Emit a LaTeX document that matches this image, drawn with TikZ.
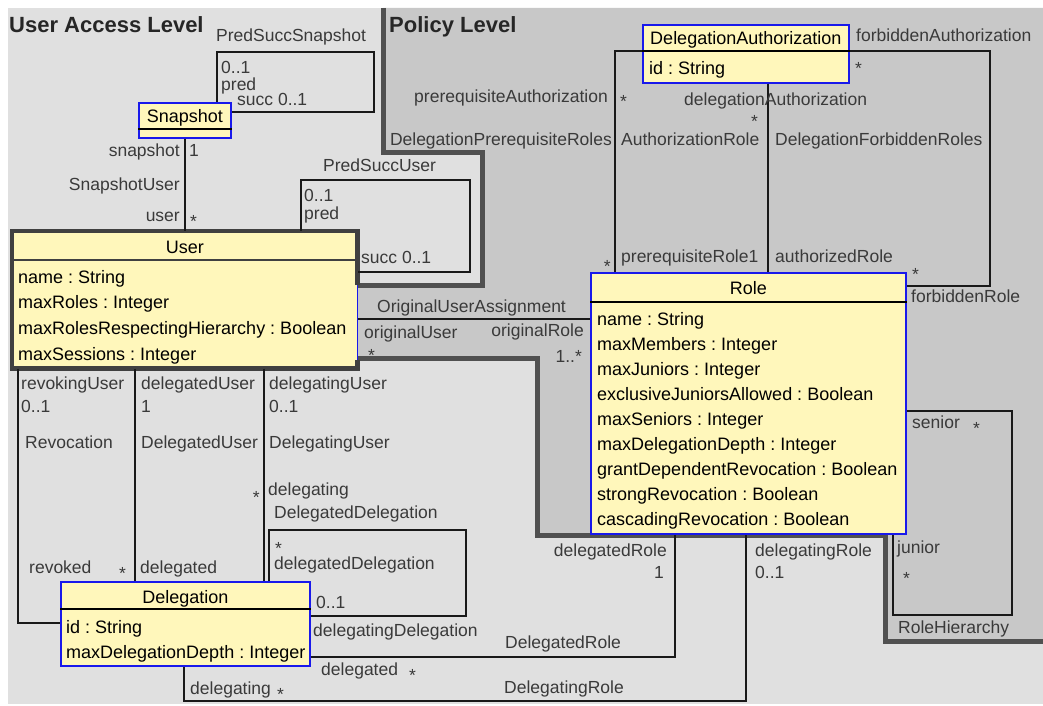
\documentclass[tikz,border=0pt]{standalone}
\usepackage{fontspec}
\setmainfont{Liberation Sans}
\usetikzlibrary{calc}
\usetikzlibrary{positioning}
\frenchspacing

\definecolor{lightlevel}{RGB}{224,224,224}
\definecolor{policylevel}{RGB}{200,200,200}
\definecolor{levelframe}{RGB}{80,80,80}
\definecolor{classfill}{RGB}{255,247,187}
\definecolor{classblue}{RGB}{25,25,235}
\definecolor{labelgray}{RGB}{58,58,58}

\tikzset{
  classbox/.style={draw=classblue, line width=1.6pt, fill=classfill, anchor=north west, inner sep=0pt},
  classline/.style={draw=black, line width=1.4pt},
  userframe/.style={draw=levelframe!80!black, line width=4.5pt},
  ctitle/.style={font=\fontsize{18}{20}\selectfont, text=black, inner sep=0pt, text height=13pt, text depth=4pt, yshift=-1.5pt},
  attr/.style={ctitle, anchor=west},
  lbl/.style={font=\fontsize{17.5}{19}\selectfont, text=labelgray, inner sep=0pt, anchor=west, text height=13pt, text depth=4pt, yshift=-1pt},
  rlbl/.style={lbl, anchor=east},
  mult/.style={lbl, yshift=-5.5pt},
  rmult/.style={rlbl, yshift=-5.5pt},
  assoc/.style={draw=black!90, line width=1.6pt},
  levelline/.style={draw=levelframe, line width=5pt},
  heading/.style={font=\fontsize{22}{24}\selectfont\bfseries, text=black!85, inner sep=0pt, anchor=west, text height=16pt, text depth=4pt}
}

\begin{document}
\begin{tikzpicture}[x=1pt,y=-1pt]
\useasboundingbox (0,0) rectangle (1043,706);
% the two levels
\fill[lightlevel] (8,8) rectangle (1043,704);
\fill[policylevel] (383,8) -- (383,152) -- (482,152) -- (482,285) -- (356,285) -- (356,358) -- (537,358) -- (537,535) -- (885,535) -- (885,641) -- (1043,641) -- (1043,8) -- cycle;
\draw[levelline] (383,8) -- (383,152) -- (482,152) -- (482,285) -- (356,285);
\draw[levelline] (356,358) -- (537,358) -- (537,535) -- (885,535) -- (885,641) -- (1043,641);
\node[heading] (hdaccess) at (9,27) {User Access Level};
\node[heading] (hdpolicy) at (389,27) {Policy Level};

% classes
\node[classbox, minimum width=92pt, minimum height=35pt] (snap) at (138,102) {};
\node[ctitle] (snapname) at ($(snap.north)+(0,15)$) {Snapshot};
\draw[classline] ($(snap.north west)+(0,27)$) -- ($(snap.north east)+(0,27)$);

\node[classbox, draw=none, minimum width=344pt, minimum height=136pt] (user) at (12,231) {};
\draw[userframe] ($(user.north east)+(0,54)$) -- (user.north east) -- (user.north west) -- (user.south west) -- (user.south east) -- ($(user.south east)+(0,-9)$);
\draw[draw=classblue, line width=1.6pt] ($(user.north east)+(0,54)$) -- ($(user.south east)+(0,-9)$);
\node[ctitle] (username) at ($(user.north)+(0,16)$) {User};
\draw[userframe, line width=2.5pt] ($(user.north west)+(0,29)$) -- ($(user.north east)+(0,29)$);
\node[attr] (ua1) at ($(user.north west)+(6,46)$) {name : String};
\node[attr] (ua2) at ($(user.north west)+(6,71)$) {maxRoles : Integer};
\node[attr] (ua3) at ($(user.north west)+(6,97)$) {maxRolesRespectingHierarchy : Boolean};
\node[attr] (ua4) at ($(user.north west)+(6,123)$) {maxSessions : Integer};

\node[classbox, minimum width=206pt, minimum height=58pt] (dauth) at (642,24) {};
\node[ctitle] (dauthname) at ($(dauth.north)+(0,15)$) {DelegationAuthorization};
\draw[classline] ($(dauth.north west)+(0,27)$) -- ($(dauth.north east)+(0,27)$);
\node[attr] (da1) at ($(dauth.north west)+(7,45)$) {id : String};

\node[classbox, minimum width=315pt, minimum height=261pt] (role) at (590,272) {};
\node[ctitle] (rolename) at ($(role.north)+(0,16)$) {Role};
\draw[classline] ($(role.north west)+(0,30)$) -- ($(role.north east)+(0,30)$);
\node[attr] (ra1) at ($(role.north west)+(7,47)$) {name : String};
\node[attr] (ra2) at ($(role.north west)+(7,72)$) {maxMembers : Integer};
\node[attr] (ra3) at ($(role.north west)+(7,97)$) {maxJuniors : Integer};
\node[attr] (ra4) at ($(role.north west)+(7,122)$) {exclusiveJuniorsAllowed : Boolean};
\node[attr] (ra5) at ($(role.north west)+(7,147)$) {maxSeniors : Integer};
\node[attr] (ra6) at ($(role.north west)+(7,172)$) {maxDelegationDepth : Integer};
\node[attr] (ra7) at ($(role.north west)+(7,197)$) {grantDependentRevocation : Boolean};
\node[attr] (ra8) at ($(role.north west)+(7,222)$) {strongRevocation : Boolean};
\node[attr] (ra9) at ($(role.north west)+(7,247)$) {cascadingRevocation : Boolean};

\node[classbox, minimum width=249pt, minimum height=84pt] (deleg) at (60,581) {};
\node[ctitle] (delegname) at ($(deleg.north)+(0,16)$) {Delegation};
\draw[classline] ($(deleg.north west)+(0,28)$) -- ($(deleg.north east)+(0,28)$);
\node[attr] (dl1) at ($(deleg.north west)+(6,46)$) {id : String};
\node[attr] (dl2) at ($(deleg.north west)+(6,71)$) {maxDelegationDepth : Integer};

% associations
\coordinate (pss) at (217,52);
\coordinate (pssend) at (374,112);
\draw[assoc] (snap.north -| pss) |- (pssend |- pss) |- (snap.east |- pssend);
\draw[assoc] (snap.south) -- (snap.south |- user.north);
\coordinate (psu) at (301,180);
\coordinate (psuend) at (470,272);
\draw[assoc] (user.north -| psu) |- (psuend |- psu) |- (user.east |- psuend);
\coordinate (oua) at (450,319);
\draw[assoc] (user.east |- oua) -- (role.west |- oua);
\coordinate (rev) at (18,623);
\draw[assoc] (user.south -| rev) |- (deleg.west |- rev);
\coordinate (dlu) at (135,0);
\draw[assoc] (user.south -| dlu) -- (deleg.north -| dlu);
\coordinate (dgu) at (264,0);
\draw[assoc] (user.south -| dgu) -- (deleg.north -| dgu);
\coordinate (ddl) at (269,530);
\coordinate (ddlend) at (466,616);
\draw[assoc] (deleg.north -| ddl) |- (ddlend |- ddl) |- (deleg.east |- ddlend);
\coordinate (dr) at (675,657);
\draw[assoc] (deleg.east |- dr) -| (role.south -| dr);
\coordinate (dgr) at (184,701);
\coordinate (dgrend) at (746,701);
\draw[assoc] (deleg.south -| dgr) |- (dgrend) -- (role.south -| dgrend);
\coordinate (rh) at (1012,411);
\coordinate (rhend) at (893,615);
\draw[assoc] (role.east |- rh) -| (rhend -| rh) -| (role.south -| rhend);
\coordinate (pre) at (615,51);
\draw[assoc] (dauth.west |- pre) -| (role.north -| pre);
\coordinate (ar) at (768,0);
\draw[assoc] (dauth.south -| ar) -- (role.north -| ar);
\coordinate (fb) at (990,51);
\coordinate (fbend) at (990,286);
\draw[assoc] (dauth.east |- fb) -| (fbend) -- (role.east |- fbend);

% role names and multiplicities
\node[lbl] (t1) at (216,36) {PredSuccSnapshot};
\node[lbl] (t2) at (221,68) {0..1};
\node[lbl] (t3) at (221,85) {pred};
\node[lbl] (t4) at (237,100) {succ 0..1};
\node[rlbl] (t5) at (180,151) {snapshot};
\node[lbl] (t6) at (189,151) {1};
\node[rlbl] (t7) at (180,185) {SnapshotUser};
\node[rlbl] (t8) at (180,216) {user};
\node[mult] (t9) at (190,216) {*};
\node[lbl] (t10) at (323,166) {PredSuccUser};
\node[lbl] (t11) at (304,196) {0..1};
\node[lbl] (t12) at (304,214) {pred};
\node[lbl] (t13) at (361,258) {succ 0..1};

\node[rlbl] (t14) at (608,97) {prerequisiteAuthorization};
\node[mult] (t15) at (620,97) {*};
\node[lbl] (t16) at (684,100) {delegationAuthorization};
\node[mult] (t17) at (751,117) {*};
\node[rlbl] (t18) at (612,140) {DelegationPrerequisiteRoles};
\node[lbl] (t19) at (621,140) {AuthorizationRole};
\node[lbl] (t20) at (775,140) {DelegationForbiddenRoles};
\node[lbl] (t21) at (856,36) {forbiddenAuthorization};
\node[mult] (t22) at (855,64) {*};
\node[rmult] (t23) at (611,261) {*};
\node[lbl] (t24) at (621,257) {prerequisiteRole1};
\node[lbl] (t25) at (775,257) {authorizedRole};
\node[mult] (t26) at (912,269) {*};
\node[lbl] (t27) at (911,297) {forbiddenRole};

\node[lbl] (t28) at (377,307) {OriginalUserAssignment};
\node[lbl] (t29) at (364,333) {originalUser};
\node[mult] (t30) at (368,350) {*};
\node[rlbl] (t31) at (584,331) {originalRole};
\node[rlbl] (t32) at (582,357) {1..*};

\node[lbl] (t33) at (21,384) {revokingUser};
\node[lbl] (t34) at (21,407) {0..1};
\node[lbl] (t35) at (25,443) {Revocation};
\node[lbl] (t36) at (141,384) {delegatedUser};
\node[lbl] (t37) at (141,407) {1};
\node[lbl] (t38) at (141,443) {DelegatedUser};
\node[lbl] (t39) at (269,384) {delegatingUser};
\node[lbl] (t40) at (269,407) {0..1};
\node[lbl] (t41) at (269,443) {DelegatingUser};
\node[rmult] (t42) at (260,492) {*};
\node[lbl] (t43) at (268,490) {delegating};
\node[lbl] (t44) at (274,513) {DelegatedDelegation};
\node[mult] (t45) at (275,543) {*};
\node[lbl] (t46) at (274,564) {delegatedDelegation};
\node[lbl] (t47) at (316,603) {0..1};
\node[lbl] (t48) at (313,631) {delegatingDelegation};
\node[lbl] (t49) at (29,568) {revoked};
\node[mult] (t50) at (119,568) {*};
\node[lbl] (t51) at (140,568) {delegated};

\node[rlbl] (t52) at (667,551) {delegatedRole};
\node[rlbl] (t53) at (664,573) {1};
\node[lbl] (t54) at (755,551) {delegatingRole};
\node[lbl] (t55) at (755,573) {0..1};
\node[lbl] (t56) at (505,643) {DelegatedRole};
\node[lbl] (t57) at (321,670) {delegated};
\node[mult] (t58) at (409,670) {*};
\node[lbl] (t59) at (190,689) {delegating};
\node[mult] (t60) at (277,689) {*};
\node[lbl] (t61) at (504,688) {DelegatingRole};

\node[lbl] (t62) at (912,423) {senior};
\node[mult] (t63) at (973,423) {*};
\node[lbl] (t64) at (897,548) {junior};
\node[mult] (t65) at (903,573) {*};
\node[lbl] (t66) at (898,628) {RoleHierarchy};
\end{tikzpicture}
\end{document}
